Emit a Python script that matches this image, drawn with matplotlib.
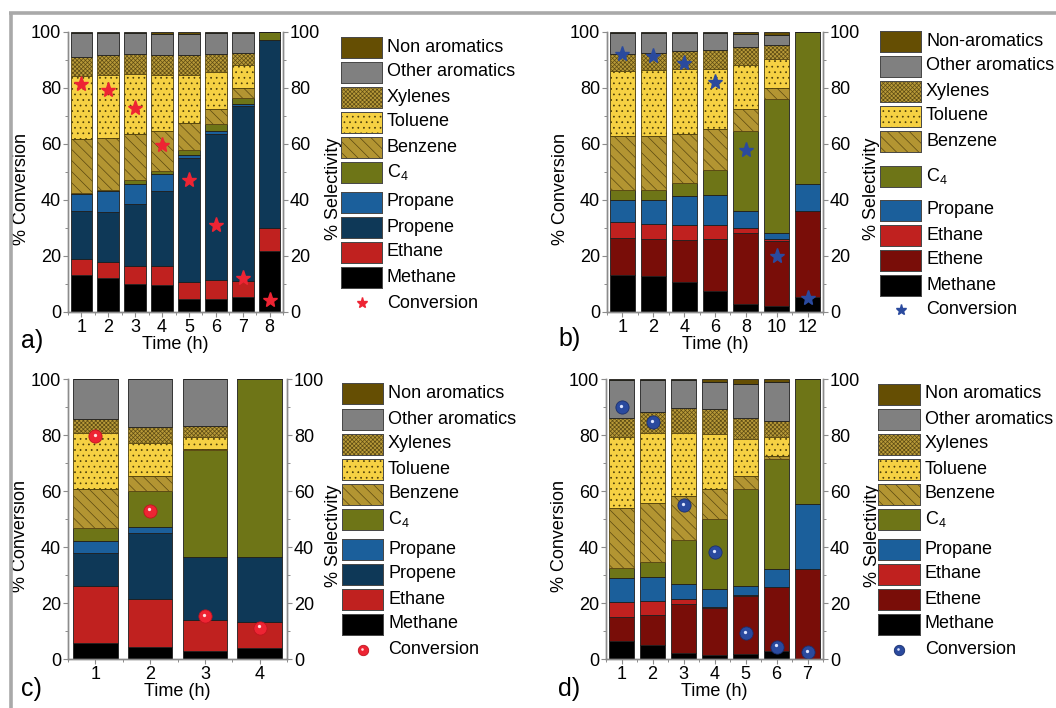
import numpy as np
import matplotlib
matplotlib.use("Agg")
import matplotlib.pyplot as plt
from matplotlib.patches import Rectangle
from matplotlib.lines import Line2D
from matplotlib.ticker import MultipleLocator
from matplotlib.transforms import offset_copy

plt.rcParams['font.family'] = ['Liberation Sans', 'DejaVu Sans']
plt.rcParams['mathtext.fontset'] = 'custom'
plt.rcParams['mathtext.rm'] = 'Liberation Sans'
plt.rcParams['mathtext.it'] = 'Liberation Sans:italic'
plt.rcParams['hatch.linewidth'] = 0.5

# ---------------- data: selectivity (%) per product, conversion (%) ----------------
# panel a
a_time = ['1', '2', '3', '4', '5', '6', '7', '8']
a_methane = [13.1, 12.1, 9.9, 9.5, 4.8, 4.8, 5.4, 21.8]
a_ethane = [5.9, 5.8, 6.5, 7.0, 5.9, 6.7, 5.7, 8.2]
a_propene = [17.0, 17.7, 22.3, 26.7, 44.2, 52.2, 62.5, 67.3]
a_propane = [6.3, 7.6, 7.1, 6.2, 1.2, 0.9, 0.6, 0.0]
a_c4 = [0.3, 0.4, 1.2, 1.0, 1.6, 2.4, 2.3, 2.7]
a_benzene = [19.3, 18.7, 16.5, 14.2, 9.9, 5.6, 3.6, 0.0]
a_toluene = [22.4, 22.3, 21.4, 20.0, 17.0, 13.2, 8.2, 0.0]
a_xylenes = [6.8, 7.1, 7.4, 7.3, 7.3, 6.5, 4.3, 0.0]
a_other = [8.7, 8.1, 7.5, 7.5, 7.5, 7.3, 6.9, 0.0]
a_nonarom = [0.2, 0.2, 0.2, 0.6, 0.6, 0.4, 0.5, 0.0]
a_conversion = [81.5, 79.4, 73.0, 59.8, 47.0, 31.0, 12.1, 4.2]

# panel b
b_time = ['1', '2', '4', '6', '8', '10', '12']
b_methane = [13.1, 12.7, 10.7, 7.4, 3.0, 2.0, 5.4]
b_ethene = [13.4, 13.5, 15.1, 18.8, 25.3, 23.4, 30.6]
b_ethane = [5.8, 5.3, 5.4, 4.8, 1.6, 0.7, 0.0]
b_propane = [7.8, 8.6, 10.1, 10.9, 6.1, 2.2, 9.6]
b_c4 = [3.4, 3.6, 4.7, 8.9, 28.6, 47.9, 54.4]
b_benzene = [19.2, 19.0, 17.7, 14.4, 8.0, 3.9, 0.0]
b_toluene = [23.4, 23.6, 23.2, 21.7, 15.7, 10.4, 0.0]
b_xylenes = [6.2, 6.3, 6.3, 6.8, 6.3, 5.0, 0.0]
b_other = [7.5, 7.2, 6.6, 6.1, 4.8, 3.5, 0.0]
b_nonarom = [0.2, 0.2, 0.2, 0.2, 0.6, 1.0, 0.0]
b_conversion = [92.3, 91.4, 88.9, 82.1, 58.0, 20.1, 5.0]

# panel c
c_time = ['1', '2', '3', '4']
c_methane = [5.8, 4.2, 2.9, 4.0]
c_ethane = [20.4, 17.1, 11.0, 9.2]
c_propene = [11.5, 23.6, 22.4, 23.3]
c_propane = [4.4, 2.1, 0.0, 0.0]
c_c4 = [4.8, 13.1, 38.3, 63.5]
c_benzene = [13.7, 5.3, 0.4, 0.0]
c_toluene = [20.0, 11.9, 4.4, 0.0]
c_xylenes = [5.0, 5.4, 3.9, 0.0]
c_other = [14.4, 17.3, 16.7, 0.0]
c_nonarom = [0.0, 0.0, 0.0, 0.0]
c_conversion = [79.6, 53.0, 15.4, 11.2]

# panel d
d_time = ['1', '2', '3', '4', '5', '6', '7']
d_methane = [6.4, 5.0, 2.3, 1.4, 1.7, 2.9, 0.0]
d_ethene = [8.5, 10.6, 17.2, 16.7, 20.8, 22.9, 32.0]
d_ethane = [5.3, 5.1, 1.9, 0.6, 0.5, 0.0, 0.0]
d_propane = [8.8, 8.7, 5.3, 6.2, 3.2, 6.2, 23.2]
d_c4 = [3.4, 5.4, 15.8, 25.0, 34.4, 39.3, 44.8]
d_benzene = [21.4, 20.8, 15.7, 10.9, 4.8, 1.3, 0.0]
d_toluene = [25.6, 25.0, 22.6, 19.4, 13.1, 6.6, 0.0]
d_xylenes = [6.8, 7.5, 9.0, 9.0, 7.5, 5.8, 0.0]
d_other = [13.6, 11.7, 9.7, 9.8, 12.2, 13.8, 0.0]
d_nonarom = [0.2, 0.2, 0.5, 1.0, 1.8, 1.2, 0.0]
d_conversion = [90.1, 84.5, 55.0, 38.1, 9.2, 4.4, 2.4]

# ---------------- styles (fill, hatch, hatch/edge colour) ----------------
STYLE = {
    'nonarom': dict(fc='#654E03', hatch=None, ec='#1E1E1E'),
    'other':   dict(fc='#808080', hatch=None, ec='#1E1E1E'),
    'xylenes': dict(fc='#B89A38', hatch='xxxxxxxx', ec='#5E4C14'),
    'toluene': dict(fc='#F6D143', hatch='...', ec='#4A3C08'),
    'benzene': dict(fc='#B39532', hatch='\\\\\\', ec='#5A4810'),
    'c4':      dict(fc='#6E7517', hatch=None, ec='#1E1E1E'),
    'propane': dict(fc='#1B5F9B', hatch=None, ec='#1E1E1E'),
    'propene': dict(fc='#0E3857', hatch=None, ec='#1E1E1E'),
    'ethane':  dict(fc='#C0211F', hatch=None, ec='#1E1E1E'),
    'ethene':  dict(fc='#790D08', hatch=None, ec='#1E1E1E'),
    'methane': dict(fc='#000000', hatch=None, ec='#1E1E1E'),
}
RED = '#EE2433'
BLUE = '#2A4A9E'

W, H = 1056, 708
fig = plt.figure(figsize=(W / 100, H / 100), dpi=100)

# overlay in pixel coordinates for the frame and the legends
ov = fig.add_axes([0, 0, 1, 1], zorder=5)
ov.set_xlim(0, W)
ov.set_ylim(H, 0)
ov.axis('off')
ov.patch.set_alpha(0)

SPINE = '#8C8C8C'
FS = 13


def px_rect(x0, x1, ytop, ybot):
    return [x0 / W, 1 - ybot / H, (x1 - x0) / W, (ybot - ytop) / H]


def ball(ax, xs, ys, col, edge, shine, ms, trans):
    ax.plot(xs, ys, ls='none', marker='o', ms=ms, color=col, mec=edge, mew=0.6,
            zorder=5, transform=trans)
    hi = offset_copy(trans, fig=fig, x=-0.8, y=1.2, units='dots')
    ax.plot(xs, ys, ls='none', marker='o', ms=ms * 0.25, color=shine, mew=0,
            zorder=6, transform=hi)


def conv_marker(ax, xs, ys, kind):
    if kind == 'star_red':
        ax.plot(xs, ys, ls='none', marker='*', ms=11, color=RED, mec=RED, zorder=5)
    elif kind == 'star_blue':
        ax.plot(xs, ys, ls='none', marker='*', ms=11, color=BLUE, mec=BLUE, zorder=5)
    elif kind == 'ball_red':
        ball(ax, xs, ys, RED, '#C0141F', '#FFE0E0', 9.5, ax.transData)
    else:
        ball(ax, xs, ys, BLUE, '#1A2F6E', '#DDE5FF', 9.5, ax.transData)


def style_axis(ax):
    ax.set_ylim(0, 100)
    ax.yaxis.set_major_locator(MultipleLocator(20))
    ax.yaxis.set_minor_locator(MultipleLocator(10))
    for s in ('left', 'bottom', 'right'):
        ax.spines[s].set_color(SPINE)
        ax.spines[s].set_linewidth(1.0)
    ax.spines['top'].set_visible(False)
    ax.tick_params(which='major', direction='out', length=3.5, width=0.8,
                   color=SPINE, labelsize=FS, pad=1.5)
    ax.tick_params(which='minor', direction='out', length=2, width=0.7, color=SPINE)


def draw_panel(rect, times, series, conversion, kind, sel_x):
    ax = fig.add_axes(rect)
    x = np.arange(len(times))
    bottom = np.zeros(len(times))
    for key, vals in series:
        vals = np.asarray(vals, dtype=float)
        st = STYLE[key]
        ax.bar(x, vals, 0.81, bottom=bottom, color=st['fc'], hatch=st['hatch'],
               edgecolor=st['ec'], linewidth=0.6, zorder=2)
        bottom += vals
    conv_marker(ax, x, conversion, kind)

    ax.set_xlim(-0.5, len(times) - 0.5)
    ax.set_xticks(x)
    ax.set_xticklabels(times)
    ax.xaxis.set_minor_locator(MultipleLocator(0.5))
    style_axis(ax)
    ax.set_ylabel('% Conversion', fontsize=FS)
    ax.yaxis.set_label_coords(-0.177, 0.44)
    ax.set_xlabel('Time (h)', fontsize=FS)
    ax.xaxis.label.set_va('center')
    ax.xaxis.set_label_coords(0.5, -0.117)

    ax2 = ax.twinx()
    style_axis(ax2)
    ax2.set_ylabel('% Selectivity', fontsize=FS)
    ax2.yaxis.set_label_coords(sel_x, 0.44)
    return ax


def draw_legend(x0, x1, tx, entries, kind):
    for label, key, yc in entries:
        if key is None:
            xc = (x0 + x1) / 2
            if kind.startswith('star'):
                col = RED if kind == 'star_red' else BLUE
                ov.plot([xc], [yc], ls='none', marker='*', ms=8, color=col)
            elif kind == 'ball_red':
                ball(ov, [xc], [yc], RED, '#C0141F', '#FFE0E0', 7.5, ov.transData)
            else:
                ball(ov, [xc], [yc], BLUE, '#1A2F6E', '#DDE5FF', 7.5, ov.transData)
        else:
            st = STYLE[key]
            ov.add_patch(Rectangle((x0, yc - 10.5), x1 - x0, 21, facecolor=st['fc'],
                                   hatch=st['hatch'], edgecolor=st['ec'], linewidth=0.6))
            ov.add_patch(Rectangle((x0, yc - 10.5), x1 - x0, 21, facecolor='none',
                                   edgecolor='#4A4A4A', linewidth=0.7))
        ov.text(tx, yc, label, fontsize=FS, va='center', ha='left')


# ---------------- panels ----------------
draw_panel(px_rect(68, 283, 32, 312), a_time,
           [('methane', a_methane), ('ethane', a_ethane), ('propene', a_propene),
            ('propane', a_propane), ('c4', a_c4), ('benzene', a_benzene),
            ('toluene', a_toluene), ('xylenes', a_xylenes), ('other', a_other),
            ('nonarom', a_nonarom)],
           a_conversion, 'star_red', 1.195)

draw_panel(px_rect(607, 823, 32, 312), b_time,
           [('methane', b_methane), ('ethene', b_ethene), ('ethane', b_ethane),
            ('propane', b_propane), ('c4', b_c4), ('benzene', b_benzene),
            ('toluene', b_toluene), ('xylenes', b_xylenes), ('other', b_other),
            ('nonarom', b_nonarom)],
           b_conversion, 'star_blue', 1.185)

draw_panel(px_rect(68, 287, 379, 659), c_time,
           [('methane', c_methane), ('ethane', c_ethane), ('propene', c_propene),
            ('propane', c_propane), ('c4', c_c4), ('benzene', c_benzene),
            ('toluene', c_toluene), ('xylenes', c_xylenes), ('other', c_other),
            ('nonarom', c_nonarom)],
           c_conversion, 'ball_red', 1.173)

draw_panel(px_rect(606, 823, 379, 659), d_time,
           [('methane', d_methane), ('ethene', d_ethene), ('ethane', d_ethane),
            ('propane', d_propane), ('c4', d_c4), ('benzene', d_benzene),
            ('toluene', d_toluene), ('xylenes', d_xylenes), ('other', d_other),
            ('nonarom', d_nonarom)],
           d_conversion, 'ball_blue', 1.19)

# ---------------- legends ----------------
C4 = 'C$_4$'
draw_legend(341, 382, 387, [
    ('Non aromatics', 'nonarom', 47), ('Other aromatics', 'other', 72),
    ('Xylenes', 'xylenes', 97), ('Toluene', 'toluene', 122),
    ('Benzene', 'benzene', 147), (C4, 'c4', 172), ('Propane', 'propane', 202),
    ('Propene', 'propene', 227), ('Ethane', 'ethane', 252),
    ('Methane', 'methane', 277), ('Conversion', None, 303)], 'star_red')

draw_legend(880, 921, 926, [
    ('Non-aromatics', 'nonarom', 41), ('Other aromatics', 'other', 66),
    ('Xylenes', 'xylenes', 91), ('Toluene', 'toluene', 116),
    ('Benzene', 'benzene', 141), (C4, 'c4', 176), ('Propane', 'propane', 210),
    ('Ethane', 'ethane', 235), ('Ethene', 'ethene', 260),
    ('Methane', 'methane', 285), ('Conversion', None, 310)], 'star_blue')

draw_legend(342, 383, 388, [
    ('Non aromatics', 'nonarom', 393), ('Other aromatics', 'other', 419),
    ('Xylenes', 'xylenes', 444), ('Toluene', 'toluene', 469),
    ('Benzene', 'benzene', 494), (C4, 'c4', 519), ('Propane', 'propane', 549),
    ('Propene', 'propene', 574), ('Ethane', 'ethane', 599),
    ('Methane', 'methane', 624), ('Conversion', None, 650)], 'ball_red')

draw_legend(878, 920, 925, [
    ('Non aromatics', 'nonarom', 394), ('Other aromatics', 'other', 419),
    ('Xylenes', 'xylenes', 444), ('Toluene', 'toluene', 469),
    ('Benzene', 'benzene', 494), (C4, 'c4', 519), ('Propane', 'propane', 549),
    ('Ethane', 'ethane', 574), ('Ethene', 'ethene', 599),
    ('Methane', 'methane', 624), ('Conversion', None, 650)], 'ball_blue')

# panel letters
for txt, xp, yp in [('a)', 21, 341), ('b)', 558, 339), ('c)', 21, 689), ('d)', 558, 689)]:
    ov.text(xp, yp, txt, fontsize=18, ha='left', va='center')

# outer frame (top and left edges)
ov.add_line(Line2D([9, W], [13, 13], color='#A9A9A9', lw=2.6, solid_capstyle='butt'))
ov.add_line(Line2D([10.5, 10.5], [12, H], color='#A9A9A9', lw=2.6, solid_capstyle='butt'))

fig.savefig('out.png', dpi=100)
